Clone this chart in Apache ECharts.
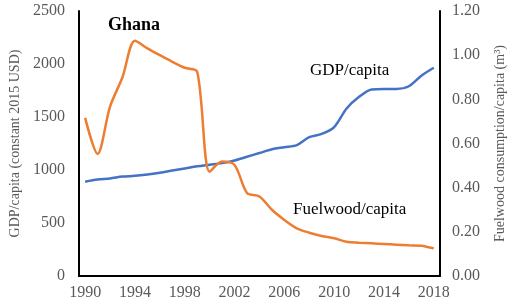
<!DOCTYPE html>
<html>
<head>
<meta charset="utf-8">
<script src="https://cdn.jsdelivr.net/npm/echarts@6/dist/echarts.min.js"></script>
<style>
  html, body { margin: 0; padding: 0; background: #fff; }
  #chart { width: 515px; height: 308px; }
</style>
</head>
<body>
<div id="chart"></div>
<script>
// years on the x axis
var years = [];
for (var y = 1990; y <= 2018; y++) years.push(String(y));

// GDP/capita, constant 2015 USD (left axis)
var gdpCapita = [890, 910, 920, 938, 945, 958, 975, 995, 1015, 1035, 1050, 1065, 1090, 1125, 1160,
                 1195, 1215, 1235, 1310, 1340, 1405, 1580, 1690, 1760, 1765, 1765, 1790, 1890, 1965];

// Fuelwood consumption/capita, m3 (right axis)
var fuelwoodCapita = [0.716, 0.553, 0.767, 0.90, 1.065, 1.031, 1.00, 0.97, 0.943, 0.925, 0.472, 0.518, 0.503, 0.376, 0.36,
                      0.30, 0.254, 0.216, 0.196, 0.181, 0.171, 0.155, 0.151, 0.148, 0.145, 0.142, 0.139, 0.137, 0.125];

var chart = echarts.init(document.getElementById('chart'));

var serif = '"Liberation Serif", "DejaVu Serif", serif';
var grey = '#595959';

var option = {
    animation: false,
    textStyle: { fontFamily: serif },
    grid: { left: 72, right: 60, top: 11, bottom: 32 },
    xAxis: {
        type: 'category',
        data: years,
        boundaryGap: true,
        axisLine: { lineStyle: { color: '#000', width: 2 } },
        axisTick: { show: false },
        axisLabel: { interval: 3, color: grey, fontSize: 16, fontFamily: serif, margin: 9 }
    },
    yAxis: [
        {
            type: 'value',
            min: 0, max: 2500, interval: 500,
            name: 'GDP/capita (constant 2015 USD)',
            nameLocation: 'middle',
            nameGap: 51,
            nameTextStyle: { color: grey, fontSize: 14, fontFamily: serif },
            axisLine: { show: true, lineStyle: { color: '#000', width: 2 } },
            axisTick: { show: false },
            splitLine: { show: false },
            axisLabel: {
                color: grey, fontSize: 16, fontFamily: serif, margin: 14,
                formatter: function (v) { return String(v); }
            }
        },
        {
            type: 'value',
            min: 0, max: 1.2, interval: 0.2,
            name: 'Fuelwood consumption/capita (m³)',
            nameLocation: 'middle',
            nameGap: 53,
            nameRotate: 90,
            nameTextStyle: { color: grey, fontSize: 14, fontFamily: serif },
            axisLine: { show: true, lineStyle: { color: '#000', width: 2 } },
            axisTick: { show: false },
            splitLine: { show: false },
            axisLabel: {
                color: grey, fontSize: 16, fontFamily: serif, margin: 12,
                formatter: function (v) { return v.toFixed(2); }
            }
        }
    ],
    series: [
        {
            name: 'GDP/capita',
            type: 'line',
            yAxisIndex: 0,
            data: gdpCapita,
            smooth: 0.3,
            symbol: 'none',
            lineStyle: { color: '#4472C4', width: 2.5 }
        },
        {
            name: 'Fuelwood/capita',
            type: 'line',
            yAxisIndex: 1,
            data: fuelwoodCapita,
            smooth: 0.3,
            symbol: 'none',
            lineStyle: { color: '#ED7D31', width: 2.5 }
        }
    ],
    graphic: [
        { type: 'text', left: 108, top: 16, style: { text: 'Ghana', font: 'bold 18px ' + serif, fill: '#000' } },
        { type: 'text', left: 310, top: 62, style: { text: 'GDP/capita', font: '17px ' + serif, fill: '#000' } },
        { type: 'text', left: 293, top: 201, style: { text: 'Fuelwood/capita', font: '17px ' + serif, fill: '#000' } }
    ]
};

chart.setOption(option);
</script>
</body>
</html>
